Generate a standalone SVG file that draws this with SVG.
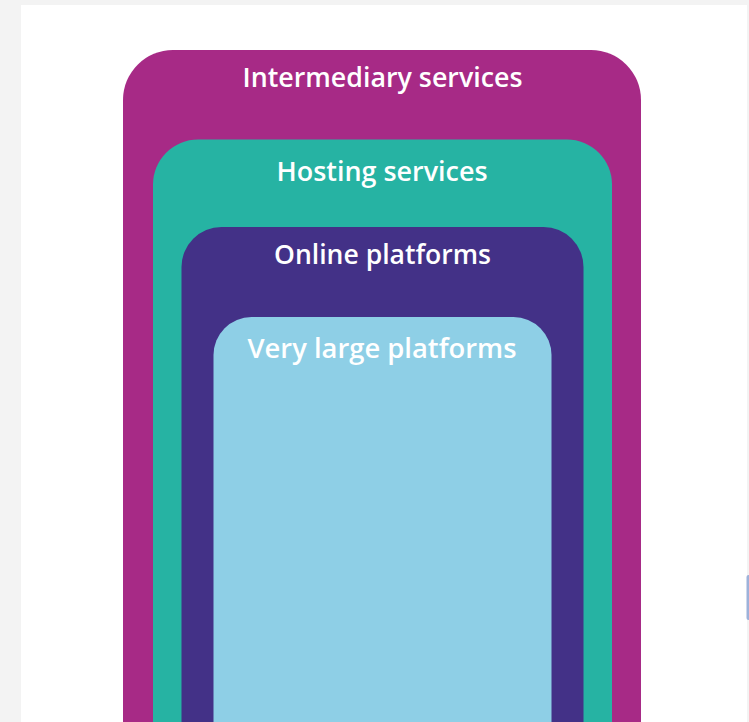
<svg xmlns="http://www.w3.org/2000/svg" width="749" height="722" viewBox="0 0 749 722">
  <style>
    .lbl { font-family: "Open Sans", "Noto Sans", "DejaVu Sans", sans-serif; font-size: 27px; font-weight: 600; fill: #ffffff; text-anchor: middle; }
  </style>
  <rect x="0" y="0" width="749" height="722" fill="#f3f3f3"/>
  <rect x="21" y="5" width="726" height="717" fill="#ffffff"/>
  <rect x="746.5" y="575" width="4" height="45" rx="2" fill="#9db2da"/>
  <g id="intermediary-services">
    <rect x="123" y="50" width="518" height="760" rx="50" ry="50" fill="#a72a86"/>
    <text class="lbl" x="382.5" y="87" textLength="280" lengthAdjust="spacingAndGlyphs">Intermediary services</text>
  </g>
  <g id="hosting-services">
    <rect x="153" y="139.5" width="459" height="700" rx="45" ry="45" fill="#26b3a3"/>
    <text class="lbl" x="382" y="181" textLength="211" lengthAdjust="spacingAndGlyphs">Hosting services</text>
  </g>
  <g id="online-platforms">
    <rect x="181.5" y="227" width="402" height="600" rx="40" ry="40" fill="#433187"/>
    <text class="lbl" x="382.5" y="263.5" textLength="217" lengthAdjust="spacingAndGlyphs">Online platforms</text>
  </g>
  <g id="very-large-platforms">
    <rect x="213.5" y="317" width="338" height="500" rx="38" ry="38" fill="#8ecfe6"/>
    <text class="lbl" x="382" y="357.5" textLength="269" lengthAdjust="spacingAndGlyphs">Very large platforms</text>
  </g>
  <g id="connectors"/>
</svg>
